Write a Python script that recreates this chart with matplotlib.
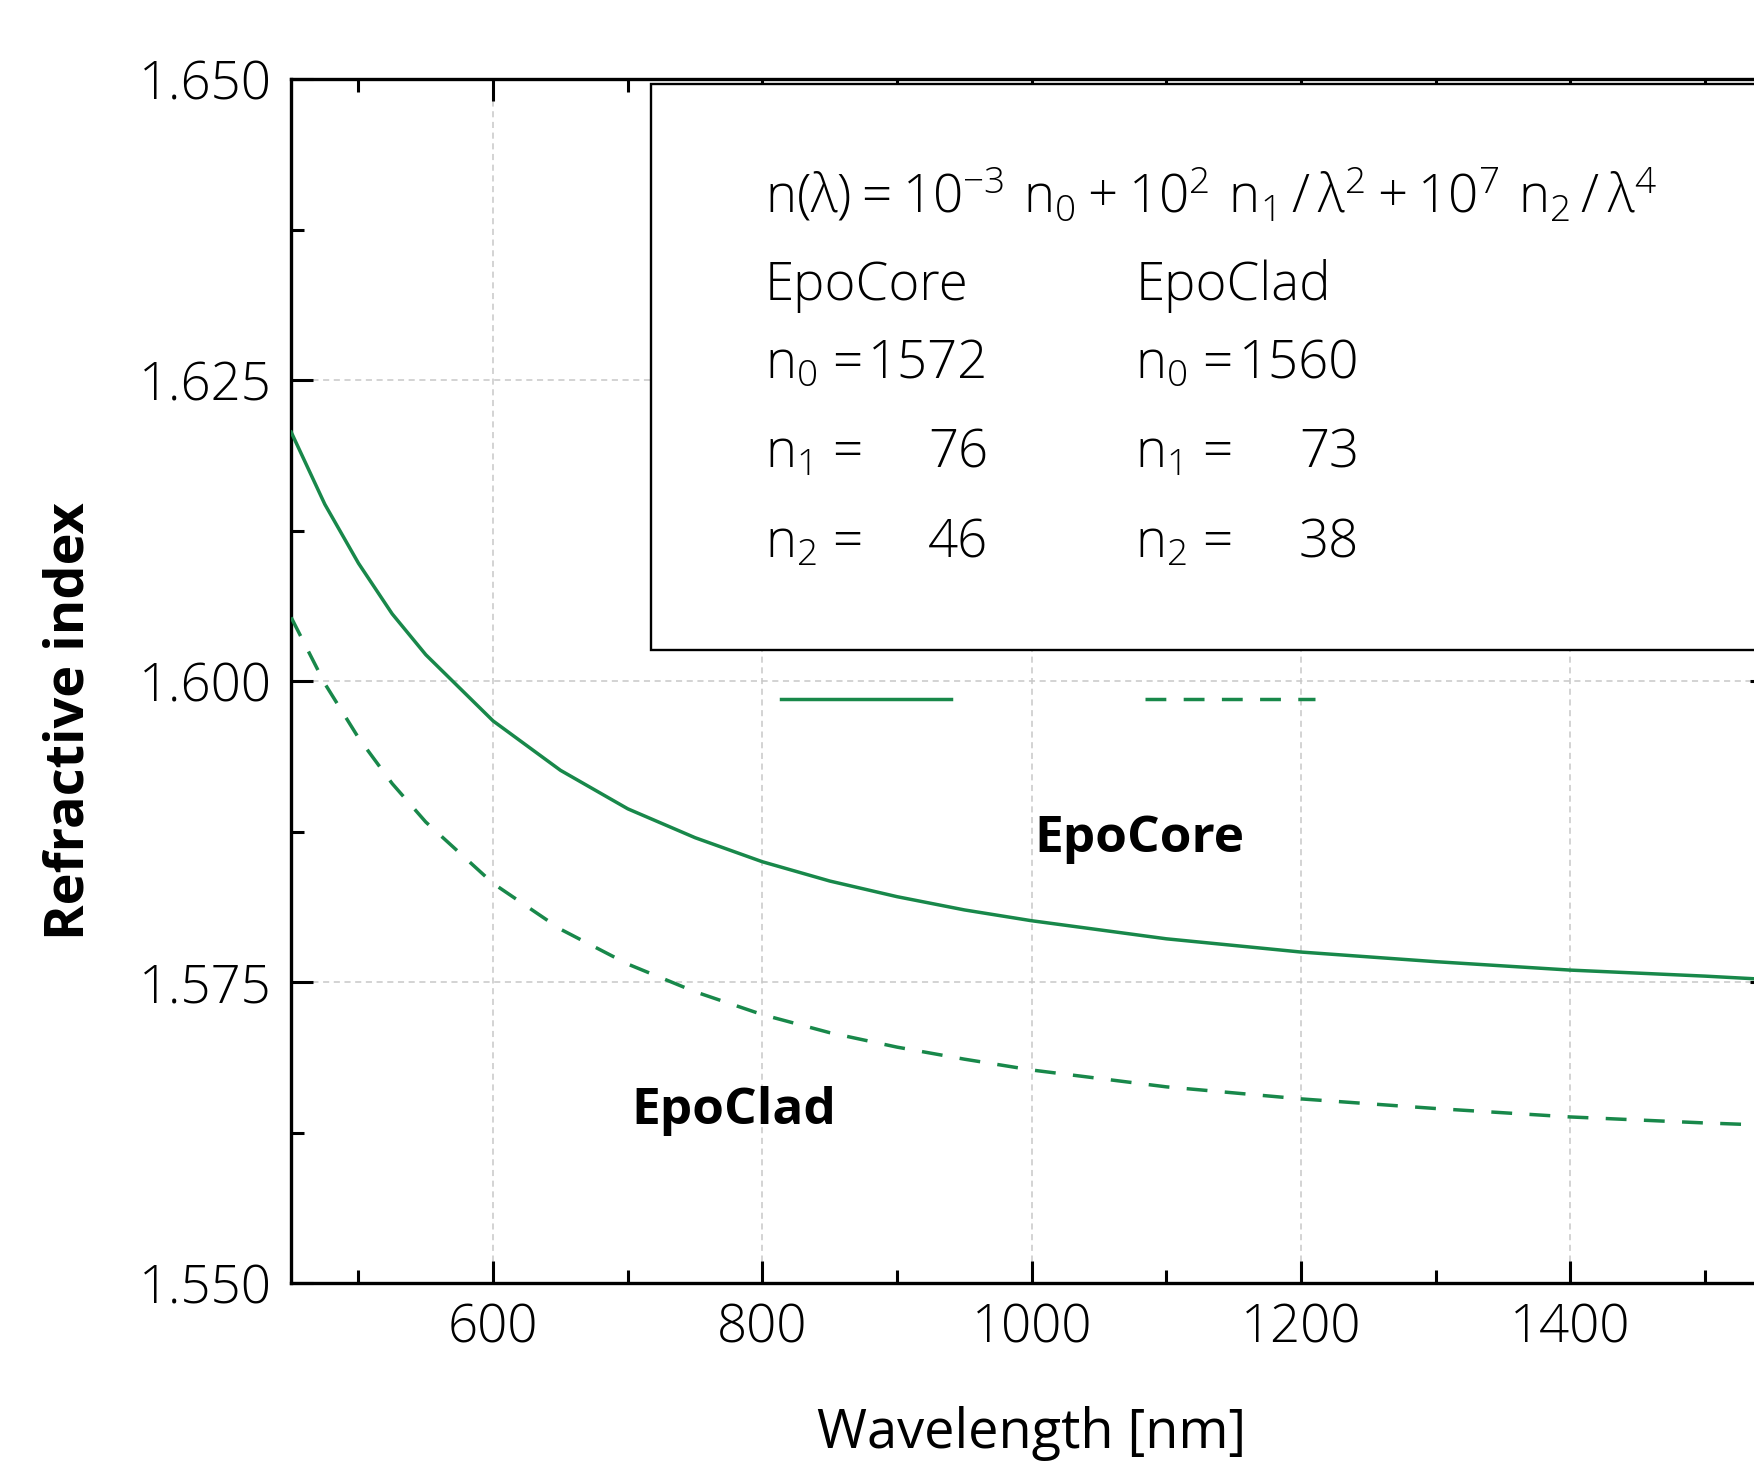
import matplotlib.pyplot as plt
from matplotlib.patches import Rectangle
from matplotlib.ticker import MultipleLocator, FormatStrFormatter

# values
wavelength = [450, 475, 500, 525, 550, 600, 650, 700, 750, 800, 850, 900, 950,
              1000, 1100, 1200, 1300, 1400, 1500, 1550]
epocore = [1.6207, 1.6147, 1.6098, 1.6056, 1.6022, 1.5967, 1.5926, 1.5894, 1.5870,
           1.5850, 1.5834, 1.5821, 1.5810, 1.5801, 1.5786, 1.5775, 1.5767, 1.5760,
           1.5755, 1.5752]
epoclad = [1.6053, 1.5998, 1.5953, 1.5915, 1.5883, 1.5832, 1.5794, 1.5765, 1.5742,
           1.5723, 1.5708, 1.5696, 1.5686, 1.5677, 1.5663, 1.5653, 1.5645, 1.5638,
           1.5633, 1.5631]

materials = ['EpoCore', 'EpoClad']
n0 = ['1572', '1560']
n1 = ['76', '73']
n2 = ['46', '38']
formula = r'$\mathregular{n(λ) = 10^{-3}\ n_0 + 10^2\ n_1\,/\,λ^2 + 10^7\ n_2\,/\,λ^4}$'

plt.rcParams['font.family'] = ['Open Sans', 'DejaVu Sans']
plt.rcParams['font.weight'] = 'light'
plt.rcParams['mathtext.fontset'] = 'custom'
plt.rcParams['mathtext.rm'] = 'Open Sans'

green = '#18884a'

fig = plt.figure(figsize=(17.54, 14.65), dpi=100)
ax = fig.add_axes([0.166, 0.1242, 0.8444, 0.8216])

core, = ax.plot(wavelength, epocore, color=green, lw=2.5, zorder=4)
clad, = ax.plot(wavelength, epoclad, color=green, lw=2.5, dashes=(6, 5), zorder=4)

ax.set_xlim(450, 1550)
ax.set_ylim(1.55, 1.65)
ax.xaxis.set_major_locator(MultipleLocator(200))
ax.xaxis.set_minor_locator(MultipleLocator(100))
ax.yaxis.set_major_locator(MultipleLocator(0.025))
ax.yaxis.set_minor_locator(MultipleLocator(0.0125))
ax.yaxis.set_major_formatter(FormatStrFormatter('%.3f'))
ax.tick_params(which='both', direction='in', top=True, right=True, width=2.2,
               labelsize=38, pad=14)
ax.tick_params(which='major', length=16)
ax.tick_params(which='minor', length=9.5)
for s in ax.spines.values():
    s.set_linewidth(2.4)
ax.grid(True, which='major', color='#c8c8c8', lw=1.1, ls=(0, (4, 3)))

ax.text(-0.15, 0.4665, 'Refractive index', transform=ax.transAxes, rotation=90,
        ha='center', va='center', fontsize=39, fontweight='bold')
ax.text(0.5, -0.137, 'Wavelength [nm]', transform=ax.transAxes,
        ha='center', va='baseline', fontsize=39, fontweight='normal')

# parameter box
box = Rectangle((0.243, 0.526), 0.9, 0.47, transform=ax.transAxes,
                fc='white', ec='black', lw=1.7, zorder=3, clip_on=False)
ax.add_patch(box)
ax.text(0.3196, 0.8894, formula, transform=ax.transAxes, fontsize=38,
        va='baseline', zorder=5)
cols = [0.3196, 0.570]
for i in range(2):
    x = cols[i]
    ax.text(x, 0.8171, materials[i], transform=ax.transAxes, fontsize=38,
            va='baseline', zorder=5)
    rows = [(r'$\mathregular{n_0}$ =', n0[i], 0.7519),
            (r'$\mathregular{n_1}$ =', n1[i], 0.6774),
            (r'$\mathregular{n_2}$ =', n2[i], 0.6030)]
    for lab, val, y in rows:
        ax.text(x, y, lab, transform=ax.transAxes, fontsize=38,
                va='baseline', zorder=5)
        ax.text(x + 0.151, y, val, transform=ax.transAxes, fontsize=38,
                va='baseline', ha='right', zorder=5)

ax.legend(handles=[core, clad], labels=['', ''], ncol=2, frameon=False,
          fontsize=20, handlelength=6.12, handletextpad=0, columnspacing=7.0,
          borderpad=0, borderaxespad=0, loc='center left',
          bbox_to_anchor=(0.3304, 0.4827))

ax.text(1080, 1.5869, 'EpoCore', ha='center', va='center', fontsize=37,
        fontweight='bold')
ax.text(779, 1.5643, 'EpoClad', ha='center', va='center', fontsize=37,
        fontweight='bold')

fig.savefig('out.png', dpi=100)
